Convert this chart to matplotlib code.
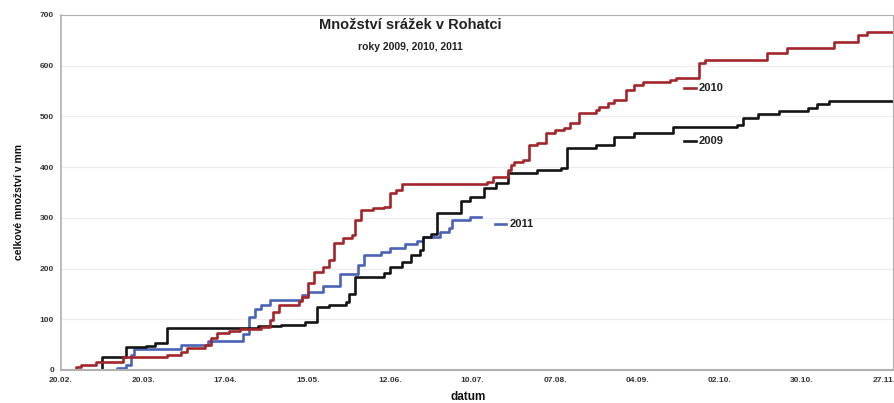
import matplotlib.pyplot as plt

plt.rcParams['font.family'] = ['Liberation Sans', 'DejaVu Sans']

# days since 20.02. and cumulative rainfall [mm]
days_2009 = [0, 14, 22, 29, 32, 36, 67, 75, 83, 87, 91, 97, 98, 100, 110, 112, 116,
             119, 122, 123, 126, 128, 136, 139, 144, 148, 152, 162, 170, 172, 182,
             188, 195, 208, 230, 232, 237, 244, 254, 257, 261, 283]
mm_2009 = [0, 26, 45, 48, 53, 83, 86, 89, 95, 124, 128, 134, 150, 184, 191, 203, 213,
           227, 237, 262, 268, 310, 333, 341, 359, 369, 388, 394, 398, 438, 444,
           460, 467, 479, 483, 497, 505, 511, 517, 524, 530, 530]

days_2010 = [0, 5, 7, 12, 21, 36, 41, 43, 49, 51, 53, 57, 61, 68, 71, 72, 74, 81, 82,
             84, 86, 89, 91, 93, 96, 99, 100, 102, 106, 110, 112, 114, 116, 125, 145,
             147, 152, 153, 154, 157, 159, 162, 165, 168, 171, 173, 176, 182, 183,
             186, 188, 192, 195, 198, 207, 209, 217, 219, 240, 247, 263, 271, 274, 283]
mm_2010 = [0, 6, 10, 15, 25, 30, 36, 43, 49, 63, 73, 77, 81, 85, 98, 115, 128, 135, 144,
           171, 193, 203, 217, 250, 260, 266, 296, 316, 320, 322, 349, 355, 366, 367, 370,
           381, 394, 404, 410, 414, 444, 448, 467, 473, 477, 487, 507, 513, 519,
           526, 532, 552, 562, 568, 572, 576, 605, 611, 625, 635, 647, 661, 667, 667]

days_2011 = [0, 19, 22, 24, 25, 41, 50, 62, 64, 66, 68, 71, 82, 84, 89, 95, 101, 103,
             109, 112, 117, 121, 123, 129, 132, 133, 139, 143]
mm_2011 = [0, 3, 10, 30, 42, 49, 57, 70, 105, 120, 128, 137, 148, 154, 166, 190, 207, 226,
           232, 240, 249, 255, 262, 272, 280, 296, 302, 302]

tick_days = [0, 28, 56, 84, 112, 140, 168, 196, 224, 252, 280]
tick_labels = ['20.02.', '20.03.', '17.04.', '15.05.', '12.06.', '10.07.',
               '07.08.', '04.09.', '02.10.', '30.10.', '27.11.']

fig = plt.figure(figsize=(8.95, 4.03), dpi=100)
ax = fig.add_axes([0.068, 0.082, 0.93, 0.881])

ax.step(days_2011, mm_2011, where='post', color='#4a63b5', lw=1.9)
ax.step(days_2009, mm_2009, where='post', color='#141414', lw=1.9)
ax.step(days_2010, mm_2010, where='post', color='#a3262a', lw=1.9)

# inline labels
labels = [('2010', 212, 556, '#a3262a'), ('2009', 212, 452, '#141414'),
          ('2011', 147.5, 288, '#4a63b5')]
for txt, lx, ly, c in labels:
    ax.plot([lx, lx + 4], [ly, ly], color=c, lw=1.9)
    ax.text(lx + 5, ly, txt, fontsize=8, fontweight='bold', color='#222222',
            va='center', ha='left')

ax.set_xlim(0, 283)
ax.set_ylim(0, 700)
ax.set_yticks(range(0, 701, 100))
ax.set_xticks(tick_days)
ax.set_xticklabels(tick_labels)
ax.tick_params(length=0, labelsize=6, colors='#333333', pad=5)
for lab in ax.get_xticklabels() + ax.get_yticklabels():
    lab.set_fontweight('bold')
ax.grid(axis='y', color='#ececec', lw=0.8)
ax.set_axisbelow(True)
for side in ['left', 'bottom', 'top', 'right']:
    ax.spines[side].set_color('#b0b0b0')
ax.spines['bottom'].set_linewidth(1.5)
ax.spines['left'].set_linewidth(1.2)

fig.text(0.021, 0.5, 'celkové množství v mm', fontsize=7.5, fontweight='bold',
         rotation=90, ha='center', va='center', color='#111111')
fig.text(0.523, 0.016, 'datum', fontsize=8.5, fontweight='bold',
         ha='center', va='center', color='#111111')

fig.text(0.458, 0.938, 'Množství srážek v Rohatci', fontsize=10.5,
         fontweight='bold', ha='center', va='center', color='#222222')
fig.text(0.458, 0.883, 'roky 2009, 2010, 2011', fontsize=7.5,
         fontweight='bold', ha='center', va='center', color='#222222')

fig.savefig('out.png', dpi=100)
